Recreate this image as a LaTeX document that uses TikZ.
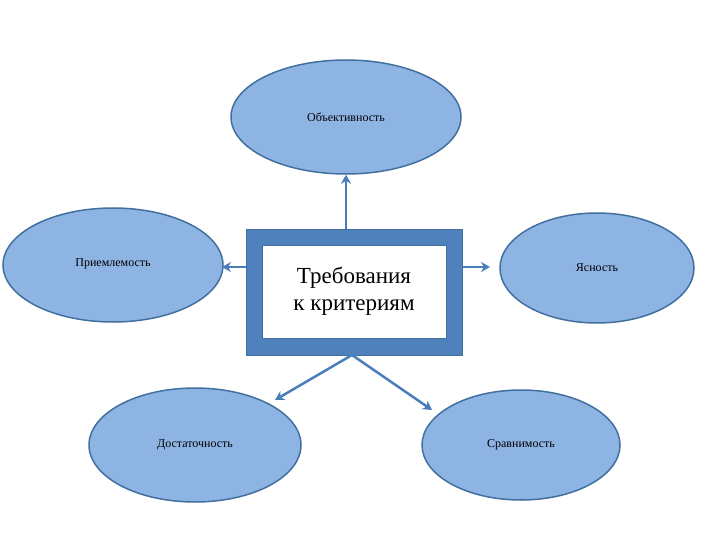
\documentclass[tikz,border=0pt]{standalone}
\usepackage{fontspec}
\setmainfont{Liberation Serif}
\usetikzlibrary{shapes.geometric,arrows.meta}
\definecolor{ellfill}{HTML}{8EB4E3}
\definecolor{ellline}{HTML}{41709F}
\definecolor{boxfill}{HTML}{4F81BD}
\definecolor{arr}{HTML}{4A7EBB}
\begin{document}
\begin{tikzpicture}[x=1pt,y=-1pt,
  ell/.style={ellipse,draw=ellline,line width=1.5pt,fill=ellfill,font=\fontsize{12}{14}\selectfont},
  con/.style={draw=arr,line width=2.5pt,-{Stealth[length=9pt,width=10pt]}}]
\useasboundingbox (0,0) rectangle (720,540);
\node[ell,minimum width=230pt,minimum height=114pt] (top) at (346,117) {Объективность};
\node[ell,minimum width=220pt,minimum height=114pt] (left) at (113,265) {\raisebox{4pt}{Приемлемость}};
\node[ell,minimum width=194pt,minimum height=110pt] (right) at (597,268) {Ясность};
\node[ell,minimum width=212pt,minimum height=114pt] (bl) at (195,445) {Достаточность};
\node[ell,minimum width=198pt,minimum height=110pt] (br) at (521,445) {Сравнимость};
\node[draw=ellline,line width=1pt,fill=boxfill,minimum width=216pt,minimum height=125pt] (box) at (354,292.5) {};
\node[draw=ellline,line width=0.8pt,fill=white,minimum width=184pt,minimum height=93pt,align=center,font=\fontsize{23}{27}\selectfont] (inner) at (354,291.5) {Требования\\к критериям};
\coordinate (bb) at (352,355);
\draw[con] (box.north -| top.south) -- (top.south);
\draw[con] (box.west |- 0,267) -- (222,267);
\draw[con] (box.east |- 0,267) -- (490,267);
\draw[con] (bb) -- (275,400);
\draw[con] (bb) -- (432,410);
\end{tikzpicture}
\end{document}
